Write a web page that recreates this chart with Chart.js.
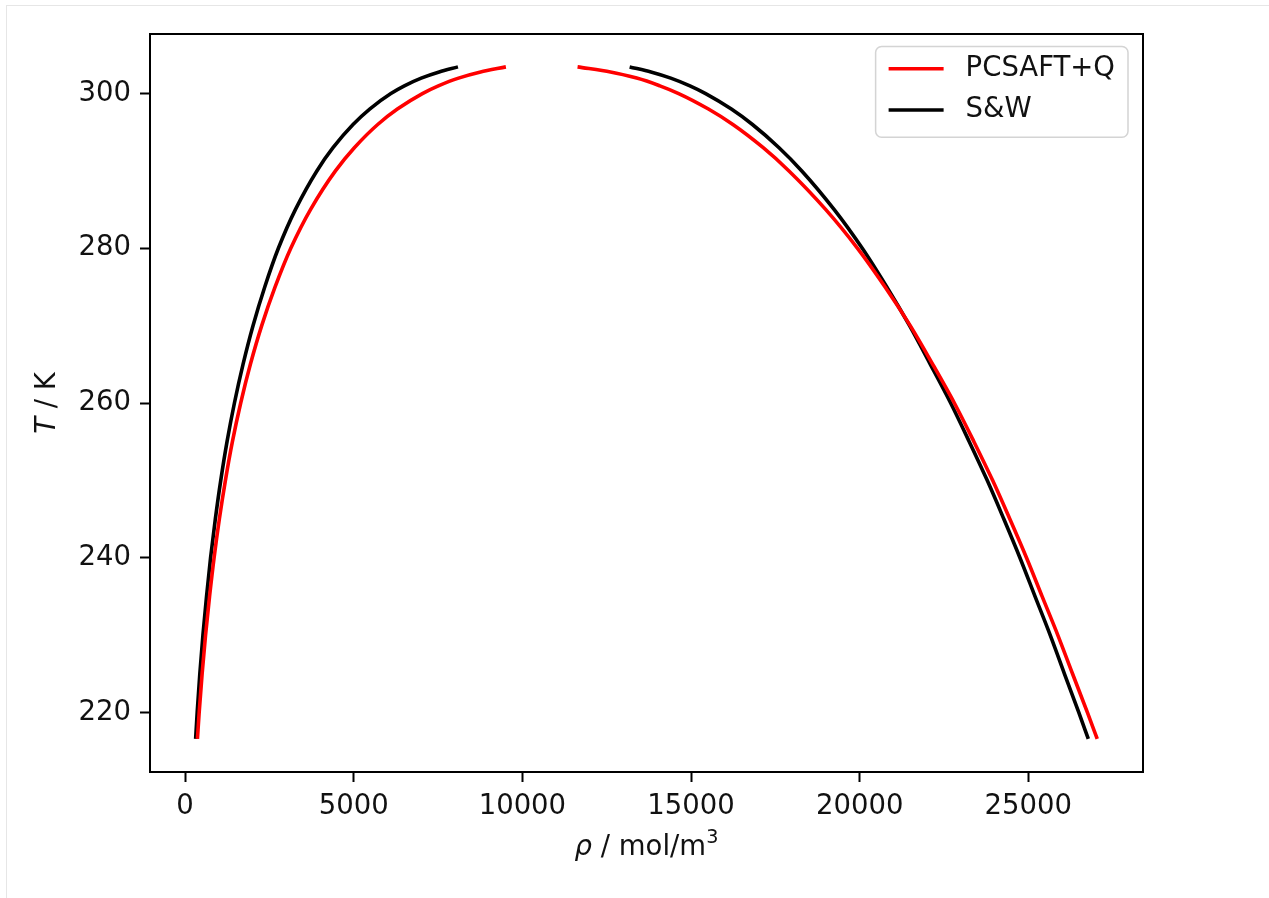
<!DOCTYPE html>
<html>
<head>
<meta charset="utf-8">
<script src="https://cdn.jsdelivr.net/npm/chart.js@4.4.1/dist/chart.umd.min.js"></script>
<style>
  html, body { margin: 0; padding: 0; background: #fff; }
  #wrap { position: relative; width: 1269px; height: 898px; }
  #frame { position: absolute; left: 6px; top: 5px; right: 0; bottom: 0;
           border-left: 1px solid #e6e6e6; border-top: 1px solid #e6e6e6; pointer-events: none; }
  canvas { position: absolute; left: 0; top: 0; }
</style>
</head>
<body>
<div id="wrap">
  <canvas id="vle" width="1269" height="898"></canvas>
  <div id="frame"></div>
</div>
<script>
// saturation temperatures, K
var temps = [216.59, 220, 225, 230, 235, 240, 245, 250, 255, 260, 265, 270, 275,
             280, 285, 290, 293, 296, 298, 300, 301, 302, 302.8, 303.45];

// S&W saturated densities, mol/m3
var swVap = [313, 359, 437, 529, 636, 756, 897, 1058, 1244, 1463, 1718, 2014, 2362,
             2766, 3270, 3907, 4386, 4979, 5473, 6102, 6501, 7001, 7533, 8090];
var swLiq = [26778, 26496, 26071, 25649, 25199, 24751, 24274, 23781, 23249, 22697, 22095, 21479, 20804,
             20077, 19246, 18284, 17610, 16821, 16196, 15433, 14967, 14399, 13811, 13180];

// PCSAFT+Q saturated densities, mol/m3
var pcVap = [366, 418, 505, 607, 726, 860, 1016, 1196, 1403, 1649, 1936, 2272, 2669,
             3134, 3718, 4458, 5018, 5711, 6294, 7036, 7509, 8107, 8761, 9511];
var pcLiq = [27043, 26751, 26311, 25874, 25409, 24946, 24452, 23941, 23387, 22807, 22167, 21499, 20754,
             19937, 18996, 17904, 17140, 16241, 15516, 14633, 14077, 13389, 12611, 11636];

var xTicks = [0, 5000, 10000, 15000, 20000, 25000];
var yTicks = [220, 240, 260, 280, 300];

var FONT = 'DejaVu Sans';
var FS = 27.5;

function branch(rho, color) {
    return {
        data: rho.map(function (r, i) { return { x: r, y: temps[i] }; }),
        borderColor: color,
        backgroundColor: color,
        borderWidth: 3.6,
        pointRadius: 0,
        cubicInterpolationMode: 'monotone',
        fill: false
    };
}

// legend box and axis titles, drawn the matplotlib way
var decor = {
    id: 'decor',
    afterDraw: function (chart) {
        var c = chart.ctx, a = chart.chartArea;
        c.save();
        // axes frame
        c.strokeStyle = '#000';
        c.lineWidth = 2;
        c.strokeRect(a.left, a.top, a.right - a.left, a.bottom - a.top);

        // legend
        var entries = [['PCSAFT+Q', '#ff0000'], ['S&W', '#000000']];
        c.font = FS + 'px "' + FONT + '"';
        var tw = 0;
        entries.forEach(function (e) { tw = Math.max(tw, c.measureText(e[0]).width); });
        var pad = 0.4 * FS, hl = 2 * FS, hp = 0.8 * FS;
        var w = pad + hl + hp + tw + pad + 4;
        var h = pad * 2 + FS * 2 + 0.5 * FS;
        var bx = a.right - 15 - w, by = a.top + 12.5;
        c.beginPath();
        c.roundRect(bx, by, w, h, 6);
        c.fillStyle = 'rgba(255,255,255,0.8)';
        c.fill();
        c.strokeStyle = '#d4d4d4';
        c.lineWidth = 1.5;
        c.stroke();
        entries.forEach(function (e, i) {
            var cy = by + 22.3 + i * FS * 1.5;
            c.strokeStyle = e[1];
            c.lineWidth = 3.6;
            c.beginPath();
            c.moveTo(bx + pad + 2, cy);
            c.lineTo(bx + pad + 2 + hl, cy);
            c.stroke();
            c.fillStyle = '#111';
            c.textAlign = 'left';
            c.textBaseline = 'middle';
            c.fillText(e[0], bx + pad + 2 + hl + hp, cy);
        });

        // x title: rho / mol/m^3
        var parts = [['ρ', 'italic ' + FS + 'px "' + FONT + '"', 0],
                     [' / mol/m', FS + 'px "' + FONT + '"', 0],
                     ['3', (FS * 0.7) + 'px "' + FONT + '"', -FS * 0.38]];
        var total = 0;
        parts.forEach(function (p) { c.font = p[1]; p.push(c.measureText(p[0]).width); total += p[3]; });
        var x = (a.left + a.right) / 2 - total / 2, y = 848;
        c.fillStyle = '#111';
        c.textBaseline = 'middle';
        parts.forEach(function (p) {
            c.font = p[1];
            c.fillText(p[0], x, y + p[2]);
            x += p[3];
        });

        // y title: T / K
        c.translate(48, (a.top + a.bottom) / 2);
        c.rotate(-Math.PI / 2);
        var yp = [['T', 'italic ' + FS + 'px "' + FONT + '"'], [' / K', FS + 'px "' + FONT + '"']];
        var yt = 0;
        yp.forEach(function (p) { c.font = p[1]; p.push(c.measureText(p[0]).width); yt += p[2]; });
        var px = -yt / 2;
        yp.forEach(function (p) {
            c.font = p[1];
            c.fillText(p[0], px, 0);
            px += p[2];
        });
        c.restore();
    }
};

var ctx = document.getElementById('vle').getContext('2d');
var chart = new Chart(ctx, {
    type: 'line',
    data: {
        datasets: [
            branch(pcVap, '#ff0000'),
            branch(pcLiq, '#ff0000'),
            branch(swVap, '#000000'),
            branch(swLiq, '#000000')
        ]
    },
    options: {
        indexAxis: 'y',   // temperature runs monotonically along each branch
        responsive: false,
        animation: false,
        layout: { padding: { top: 34, right: 126, left: 0, bottom: 0 } },
        plugins: {
            legend: { display: false },
            tooltip: { enabled: false }
        },
        scales: {
            x: {
                type: 'linear',
                position: 'bottom',
                min: -1040,
                max: 28400,
                afterFit: function (s) { s.height = 126; },
                afterBuildTicks: function (s) { s.ticks = xTicks.map(function (v) { return { value: v }; }); },
                grid: { drawOnChartArea: false, tickLength: 10, tickColor: '#000', tickWidth: 2 },
                border: { color: '#000', width: 2 },
                ticks: {
                    padding: 8,
                    color: '#111',
                    font: { family: FONT, size: FS },
                    maxRotation: 0,
                    callback: function (v) { return String(v); }
                }
            },
            y: {
                type: 'linear',
                position: 'left',
                min: 212.3,
                max: 307.7,
                afterFit: function (s) { s.width = 150; },
                afterBuildTicks: function (s) { s.ticks = yTicks.map(function (v) { return { value: v }; }); },
                grid: { drawOnChartArea: false, tickLength: 10, tickColor: '#000', tickWidth: 2 },
                border: { color: '#000', width: 2 },
                ticks: {
                    padding: 9,
                    color: '#111',
                    font: { family: FONT, size: FS },
                    callback: function (v) { return String(v); }
                }
            }
        }
    },
    plugins: [decor]
});
</script>
</body>
</html>
